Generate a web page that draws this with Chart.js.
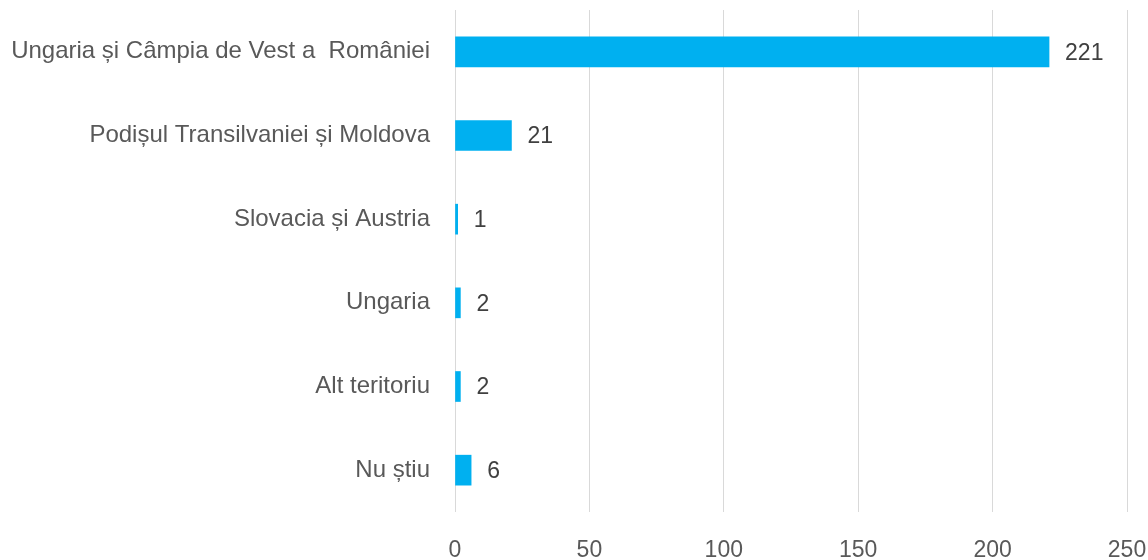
<!DOCTYPE html>
<html>
<head>
<meta charset="utf-8">
<script src="https://cdn.jsdelivr.net/npm/chart.js@4/dist/chart.umd.min.js"></script>
<style>
html,body{margin:0;padding:0;background:#fff;}
#wrap{width:1148px;height:560px;position:relative;}
</style>
</head>
<body>
<div id="wrap"><canvas id="c" width="1148" height="560"></canvas></div>
<script>
const categories = [
  "Ungaria și Câmpia de Vest a  României",
  "Podișul Transilvaniei și Moldova",
  "Slovacia și Austria",
  "Ungaria",
  "Alt teritoriu",
  "Nu știu"
];
const values = [221, 21, 1, 2, 2, 6];
const xTicks = [0, 50, 100, 150, 200, 250];

const FONT = "'Liberation Sans', Arial, sans-serif";

const valueLabels = {
  id: 'valueLabels',
  afterDatasetsDraw(chart) {
    const ctx = chart.ctx;
    const meta = chart.getDatasetMeta(0);
    ctx.save();
    ctx.font = "23px " + FONT;
    ctx.fillStyle = "#404040";
    ctx.textAlign = "left";
    ctx.textBaseline = "middle";
    meta.data.forEach((el, i) => {
      ctx.fillText(String(chart.data.datasets[0].data[i]), el.x + 16, el.y + 1.5);
    });
    ctx.restore();
  }
};

function zeroPad(scale) {
  scale.paddingTop = 0; scale.paddingBottom = 0;
  scale.paddingLeft = 0; scale.paddingRight = 0;
}

new Chart(document.getElementById('c'), {
  type: 'bar',
  data: {
    labels: categories,
    datasets: [{
      data: values,
      backgroundColor: '#00B0F0',
      borderWidth: 0,
      barThickness: 30
    }]
  },
  options: {
    indexAxis: 'y',
    responsive: false,
    animation: false,
    layout: { padding: { top: 10, right: 21, bottom: 0, left: 0 } },
    plugins: { legend: { display: false }, tooltip: { enabled: false } },
    scales: {
      x: {
        min: 0,
        max: 250,
        afterBuildTicks(scale) { scale.ticks = xTicks.map(v => ({ value: v })); },
        afterFit(scale) { scale.height = 48; zeroPad(scale); },
        grid: { color: '#d9d9d9', lineWidth: 1, drawTicks: false },
        border: { display: false },
        ticks: { padding: 25, maxRotation: 0, color: '#595959', font: { family: FONT, size: 23 } }
      },
      y: {
        afterFit(scale) { scale.width = 455; zeroPad(scale); },
        grid: { display: false, drawTicks: false },
        border: { display: false },
        ticks: { padding: 25, color: '#595959', font: { family: FONT, size: 24 } }
      }
    }
  },
  plugins: [valueLabels]
});
</script>
</body>
</html>
